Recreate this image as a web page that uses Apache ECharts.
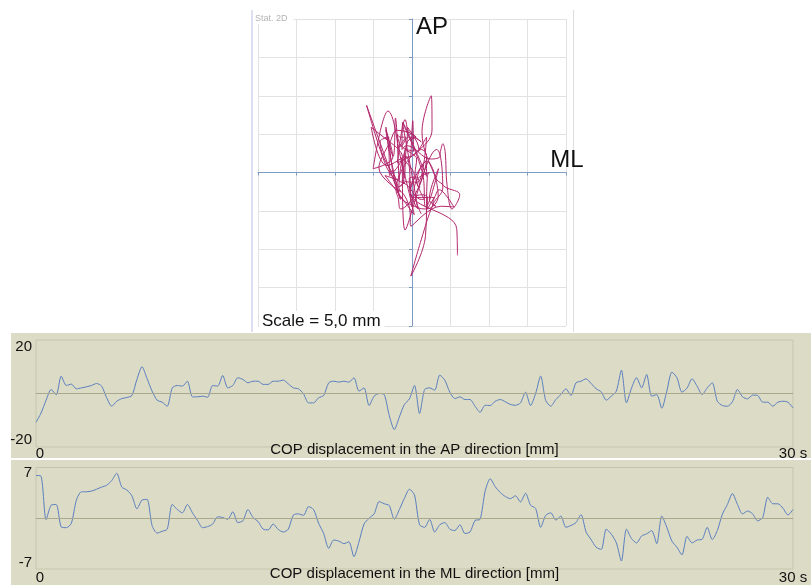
<!DOCTYPE html>
<html><head><meta charset="utf-8">
<script src="https://cdn.jsdelivr.net/npm/echarts@6/dist/echarts.min.js"></script>
<style>html,body{margin:0;padding:0;background:#fff}#c{width:811px;height:585px}</style>
</head><body><div id="c"></div>
<script>
// sampling step of the two COP time series (s)
const T_STEP = 0.2;
// COP displacement, antero-posterior (mm), t = 0 .. 30 s
const AP = [
 -10.8,-7.3,-2.5,1.5,-0.5,6.5,3.0,3.5,1.75,2.1,
 2.5,3.0,3.75,2.75,-1.6,-4.75,-2.9,-1.9,-1.5,-0.75,
 5.3,10.0,5.6,0.9,-2.5,-3.25,-4.75,2.1,3.0,2.75,
 4.6,-1.25,-1.25,-1.0,-1.4,3.0,2.75,6.75,2.1,3.0,
 5.9,5.25,4.0,4.6,4.6,3.4,3.4,4.6,4.6,5.0,
 3.6,2.1,1.75,-0.1,-3.5,-3.5,-1.6,-0.75,4.0,4.6,
 4.25,4.6,4.25,5.9,0.9,2.1,-4.5,-1.0,0,-0.4,
 -8.25,-13.5,-8.75,-4.1,-2.0,3.0,-7.5,1.5,2.1,1.25,
 6.9,5.0,0.5,-1.9,-1.25,-2.25,-2.25,-4.75,-7.0,-4.4,
 -4.5,-2.9,-2.25,-3.1,-4.1,-4.4,-3.5,0.5,-4.5,0,
 6.5,-2.6,-4.75,-2.25,-0.4,1.75,-0.75,4.0,4.6,5.5,
 3.75,1.75,0.6,-2.5,-1.0,0.9,8.75,-3.5,2.0,5.9,
 2.1,7.1,-1.0,-0.4,-5.5,0.9,8.0,5.9,0.5,2.0,
 5.5,2.75,-0.4,2.1,4.0,-2.9,-4.5,-4.75,-3.1,1.5,
 -1.25,-2.0,-0.6,-0.75,-3.25,-3.25,-4.75,-3.25,-2.9,-3.25,
 -5.4
];
// COP displacement, medio-lateral (mm), t = 0 .. 30 s
const ML = [
 5.9,5.8,-0.2,1.8,1.9,-1.2,-1.3,-0.7,2.5,3.65,
 3.65,3.75,4.0,4.3,4.55,5.2,6.2,4.3,3.9,3.1,
 1.3,2.5,2.6,-1.0,-2.05,-1.8,-1.5,1.9,1.2,0.75,
 1.9,0.75,-0.3,-1.3,-1.15,-0.8,0.2,0.1,-0.15,0.9,
 -0.6,-0.35,1.2,0.1,-0.45,-1.5,-1.6,-0.8,-1.55,-1.9,
 -1.5,0.45,0.6,0.4,1.6,1.2,-0.7,-2.1,-4.15,-3.0,
 -3.15,-3.5,-3.25,-5.3,-3.25,-0.8,0,0.6,2.3,2.0,
 1.75,-0.15,1.2,2.75,4.0,3.2,-0.9,-1.25,-0.15,-1.9,
 -0.9,-0.6,-1.5,-1.7,-0.9,-2.1,-1.9,-0.3,-0.15,3.75,
 5.45,4.35,3.55,3.0,2.7,3.1,2.25,3.45,1.8,1.35,
 -1.25,0.4,0.75,-0.25,0.3,-1.25,-1.0,-0.6,0.5,-1.9,
 -2.95,-4.0,-4.3,-1.5,-2.2,-3.4,-5.9,-1.5,-2.8,-3.4,
 -2.45,-2.15,-1.7,-3.5,0.3,-1.25,-3.15,-4.0,-5.05,-2.5,
 -3.4,-3.0,-2.9,-1.25,-2.95,-1.7,0.55,1.9,3.4,1.9,
 0.6,1.0,0.6,-0.35,0.1,2.9,2.0,2.0,1.4,0.45,
 1.2
];
// axis ranges and tick labels
const STAB_RANGE = [-20, 20];
const STAB_STEP = 5;
const AP_RANGE = [-20, 20];
const AP_TICK_LABELS = ['-20', '20'];
const ML_RANGE = [-7, 7];
const ML_TICK_LABELS = ['-7', '7'];
const TIME_RANGE = [0, 30];
const TIME_TICK_LABELS = ['0', '30 s'];
const CAPTIONS = ['COP displacement in the AP direction [mm]', 'COP displacement in the ML direction [mm]'];

const FONT = 'Liberation Sans, Arial, sans-serif';
const BEIGE = '#dcdbc6';
const TRACE = '#5a7fc0';
const ZERO = '#a9a78c';
const BORDER = '#c6c5ab';

const chart = echarts.init(document.getElementById('c'), null, {renderer: 'canvas'});

function lbl(size, pad) { return {fontSize: size, fontFamily: FONT, color: '#111', padding: pad}; }

function timeAxis(gi, caption) {
  return {
    gridIndex: gi, type: 'value', min: TIME_RANGE[0], max: TIME_RANGE[1], interval: TIME_RANGE[1] - TIME_RANGE[0],
    axisLine: {show: false}, axisTick: {show: false}, splitLine: {show: false},
    axisLabel: {
      show: true, showMinLabel: true, showMaxLabel: true, margin: gi === 1 ? 7 : 8.5, verticalAlign: 'middle',
      formatter: v => v === TIME_RANGE[0] ? '{a|' + TIME_TICK_LABELS[0] + '}' : (v === TIME_RANGE[1] ? '{b|' + TIME_TICK_LABELS[1] + '}' : ''),
      rich: {a: lbl(15, [0, 0, 0, 8]), b: lbl(15, [0, 0, 0, 0])}
    },
    name: caption, nameLocation: 'middle', nameGap: gi === 1 ? 3 : 5, nameMoveOverlap: false,
    nameTextStyle: {fontSize: 15, fontFamily: FONT, color: '#111', verticalAlign: 'middle'}
  };
}

function valAxis(gi, range, labels, padTop, padBot) {
  return {
    gridIndex: gi, type: 'value', min: range[0], max: range[1], interval: range[1],
    axisLine: {show: false}, axisTick: {show: false}, splitLine: {show: false},
    axisLabel: {
      show: true, showMinLabel: true, showMaxLabel: true, margin: 4,
      formatter: v => v === range[1] ? '{t|' + labels[1] + '}' : (v === range[0] ? '{b|' + labels[0] + '}' : ''),
      rich: {t: lbl(15, [padTop, 0, 0, 0]), b: lbl(15, [0, 0, padBot, 0])}
    }
  };
}

function zeroLine() {
  return {silent: true, symbol: ['none', 'none'], label: {show: false}, animation: false,
    lineStyle: {color: ZERO, width: 1, type: 'solid'}, data: [{yAxis: 0}]};
}

const stabAxisCommon = {
  type: 'value', min: STAB_RANGE[0], max: STAB_RANGE[1], interval: STAB_STEP,
  axisLine: {show: true, onZero: true, lineStyle: {color: '#7e9bc3', width: 1}},
  axisTick: {show: true, length: 3, lineStyle: {color: '#7e9bc3'}},
  axisLabel: {show: false},
  splitLine: {show: true, lineStyle: {color: '#e2e2e2', width: 1}}
};

const option = {
  animation: false,
  backgroundColor: '#ffffff',
  graphic: [
    {type: 'rect', z: -10, shape: {x: 11, y: 333, width: 800, height: 125}, style: {fill: BEIGE}},
    {type: 'rect', z: -10, shape: {x: 11, y: 460, width: 800, height: 125}, style: {fill: BEIGE}},
    {type: 'line', z: -9, shape: {x1: 252, y1: 10, x2: 252, y2: 332}, style: {stroke: '#d3d3ec', lineWidth: 1.5}},
    {type: 'line', z: -9, shape: {x1: 573.5, y1: 10, x2: 573.5, y2: 332}, style: {stroke: '#dedede', lineWidth: 1}}
  ],
  title: [
    {text: 'Stat. 2D', left: 253, top: 13, padding: [1, 6, 1, 2], backgroundColor: '#ffffff',
     textStyle: {fontSize: 9, fontWeight: 'normal', color: '#b4b4b4', fontFamily: 'Liberation Sans Narrow, ' + FONT}},
    {text: 'Scale = 5,0 mm', left: 259, top: 311, padding: [2, 4, 2, 3], backgroundColor: '#ffffff',
     textStyle: {fontSize: 17, fontWeight: 'normal', color: '#111', fontFamily: FONT}}
  ],
  grid: [
    {left: 258, top: 19, width: 308, height: 307, show: false},
    {left: 36, top: 340, width: 757, height: 107, show: true, borderColor: BORDER, borderWidth: 1, backgroundColor: 'transparent'},
    {left: 36, top: 467.5, width: 757, height: 104.5, show: true, borderColor: BORDER, borderWidth: 1, backgroundColor: 'transparent'}
  ],
  xAxis: [
    Object.assign({}, stabAxisCommon, {gridIndex: 0, name: 'ML', nameLocation: 'end', nameGap: 1, nameMoveOverlap: false,
      nameTextStyle: {fontSize: 24, fontFamily: FONT, color: '#111', align: 'center', verticalAlign: 'bottom'}}),
    timeAxis(1, CAPTIONS[0]),
    timeAxis(2, CAPTIONS[1])
  ],
  yAxis: [
    Object.assign({}, stabAxisCommon, {gridIndex: 0, name: 'AP', nameLocation: 'end', nameGap: 4, nameMoveOverlap: false,
      nameTextStyle: {fontSize: 24, fontFamily: FONT, color: '#111', align: 'left', verticalAlign: 'top', padding: [0, 0, 0, 4]}}),
    valAxis(1, AP_RANGE, AP_TICK_LABELS, 14, 14),
    valAxis(2, ML_RANGE, ML_TICK_LABELS, 11, 12)
  ],
  series: [
    {type: 'line', xAxisIndex: 0, yAxisIndex: 0, showSymbol: false, symbol: 'none', smooth: 0.4,
     lineStyle: {color: '#b2266c', width: 1}, data: ML.map((m, i) => [m, AP[i]]), z: 3},
    {type: 'line', xAxisIndex: 1, yAxisIndex: 1, showSymbol: false, symbol: 'none', smooth: 0.25,
     lineStyle: {color: TRACE, width: 1}, data: AP.map((v, i) => [i * T_STEP, v]), markLine: zeroLine()},
    {type: 'line', xAxisIndex: 2, yAxisIndex: 2, showSymbol: false, symbol: 'none', smooth: 0.25,
     lineStyle: {color: TRACE, width: 1}, data: ML.map((v, i) => [i * T_STEP, v]), markLine: zeroLine()}
  ]
};
chart.setOption(option);
</script></body></html>
